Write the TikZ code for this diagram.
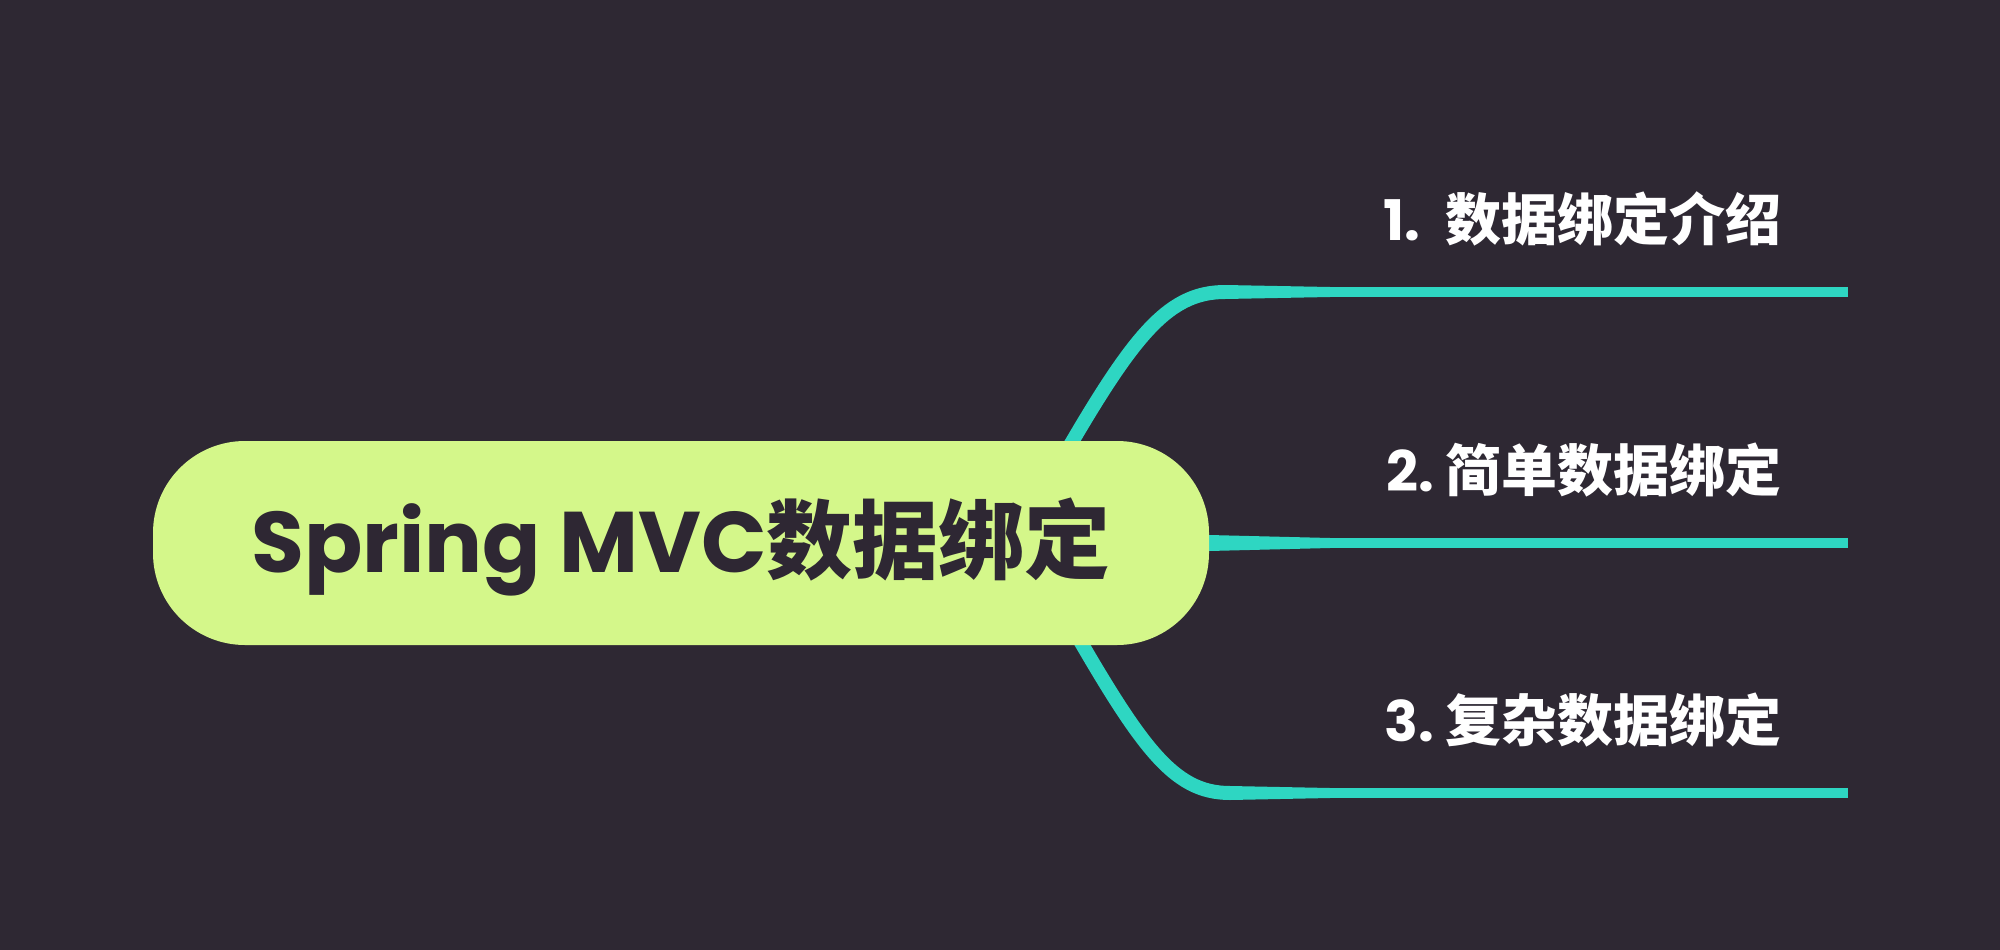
\documentclass[tikz,border=0pt]{standalone}
\usepackage{fontspec}
\usetikzlibrary{calc}
\newfontfamily\latf{Poppins}
\newfontfamily\cjk{Noto Sans CJK SC}
\definecolor{bgc}{HTML}{2E2833}
\definecolor{boxc}{HTML}{D4F78A}
\definecolor{teal}{HTML}{2ED6C2}
\definecolor{darkt}{HTML}{2E2733}
\tikzset{
  rootbox/.style={fill=boxc, draw=none, rounded corners=92pt, minimum width=1056pt, minimum height=204pt, inner sep=0pt},
  roottext/.style={anchor=base, inner sep=0pt, text=darkt, font=\fontsize{86}{90}\selectfont\bfseries},
  leaf/.style={anchor=base east, inner sep=0pt, text=white, font=\fontsize{56}{60}\selectfont\bfseries},
  curvebranch/.style={draw=teal, line width=14pt},
  thinbranch/.style={draw=teal, line width=10pt},
}
\begin{document}
\begin{tikzpicture}[x=1pt,y=-1pt]
\fill[bgc] (0,0) rectangle (2000,950);
\useasboundingbox (0,0) rectangle (2000,950);

% coordinates of the branches
\coordinate (s1) at (1050,480);
\coordinate (k1) at (1225,292);
\coordinate (m1) at (1330,292);
\coordinate (e1) at (1848,292);
\coordinate (s2) at (1150,543);
\coordinate (k2) at (1209,543);
\coordinate (m2) at (1330,543);
\coordinate (e2) at (1848,543);
\coordinate (s3) at (1060,606);
\coordinate (k3) at (1230,793);
\coordinate (m3) at (1330,793);
\coordinate (e3) at (1848,793);

% branch 1
\draw[curvebranch] (s1) .. controls (1130,340) and (1165,292) .. (k1);
\fill[teal] ($(k1)+(0,-7)$) -- ($(m1)+(0,-5)$) -- ($(m1)+(0,5)$) -- ($(k1)+(0,7)$) -- cycle;
\draw[thinbranch] (m1) -- (e1);
% branch 2
\fill[teal] ($(s2)+(0,-8)$) -- ($(k2)+(0,-8)$) -- ($(m2)+(0,-5)$) -- ($(m2)+(0,5)$) -- ($(k2)+(0,8)$) -- ($(s2)+(0,8)$) -- cycle;
\draw[thinbranch] (m2) -- (e2);
% branch 3
\draw[curvebranch] (s3) .. controls (1140,746) and (1172,793) .. (k3);
\fill[teal] ($(k3)+(0,-7)$) -- ($(m3)+(0,-5)$) -- ($(m3)+(0,5)$) -- ($(k3)+(0,7)$) -- cycle;
\draw[thinbranch] (m3) -- (e3);

% root
\node[rootbox] (root) at (681,543) {};
\node[roottext] (roottxt) at (681,572) {{\latf Spring MVC}{\cjk 数据绑定}};

% leaves
\node[leaf] (l1) at (1782,240) {{\latf 1.}\hspace{0.45em}{\cjk 数据绑定介绍}};
\node[leaf] (l2) at (1782,491) {{\latf 2.}\hspace{0.2em}{\cjk 简单数据绑定}};
\node[leaf] (l3) at (1782,741) {{\latf 3.}\hspace{0.2em}{\cjk 复杂数据绑定}};
\end{tikzpicture}
\end{document}
